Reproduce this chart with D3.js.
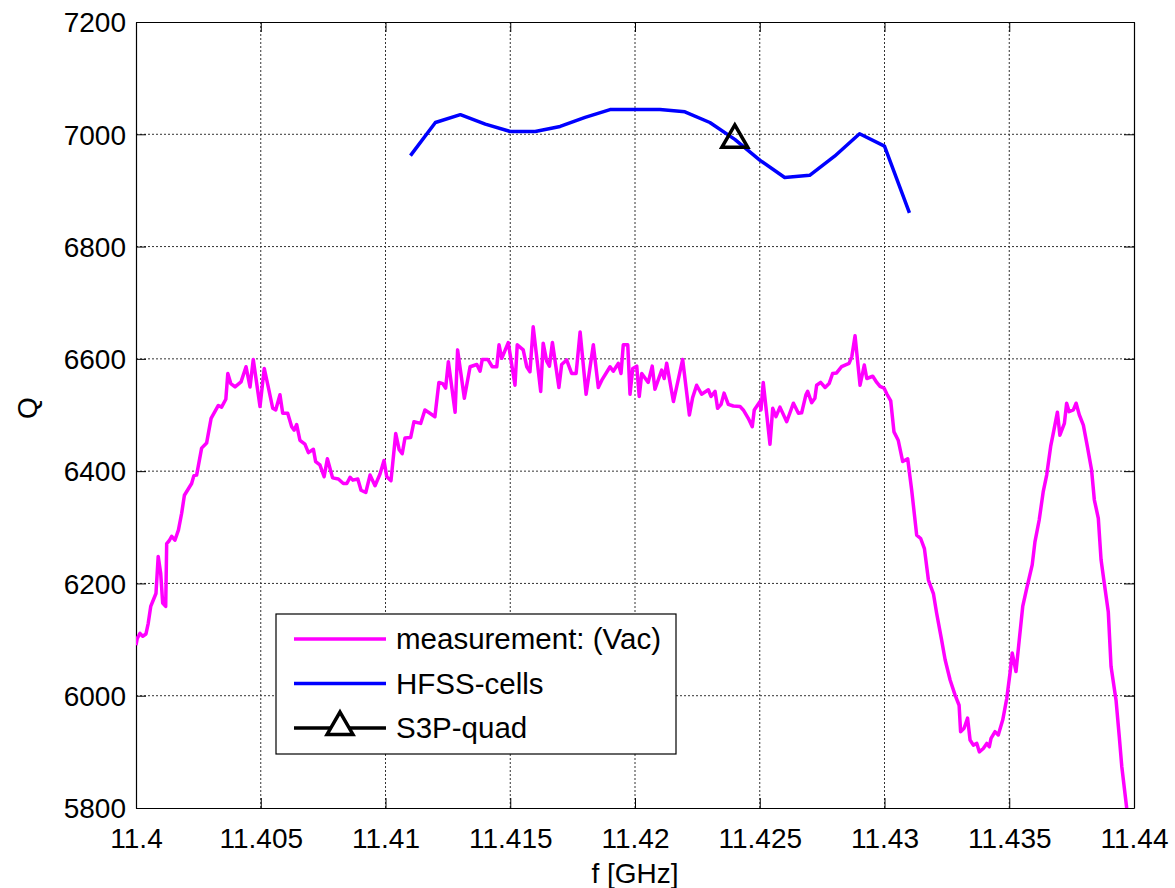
<!DOCTYPE html>
<html>
<head>
<meta charset="utf-8">
<script src="https://cdn.jsdelivr.net/npm/d3@7"></script>
<style>
  body { margin: 0; background: #fff; }
  text { font-family: "Liberation Sans", Arial, sans-serif; fill: #000; }
</style>
</head>
<body>
<div id="chart"></div>
<script>
// Measurement (Vac) - frequency in GHz and Q
const measFreq = [
  11.40000, 11.40005, 11.40016, 11.40027, 11.40040, 11.40049, 11.40059, 11.40069, 11.40080, 11.40089,
  11.40099, 11.40107, 11.40119, 11.40123, 11.40133, 11.40143, 11.40156, 11.40170, 11.40183, 11.40194,
  11.40223, 11.40232, 11.40243, 11.40263, 11.40283, 11.40301, 11.40330, 11.40343, 11.40360, 11.40368,
  11.40380, 11.40397, 11.40421, 11.40441, 11.40457, 11.40470, 11.40497, 11.40514, 11.40530, 11.40548,
  11.40560, 11.40577, 11.40588, 11.40608, 11.40624, 11.40634, 11.40644, 11.40657, 11.40677, 11.40691,
  11.40711, 11.40720, 11.40737, 11.40754, 11.40767, 11.40788, 11.40811, 11.40831, 11.40845, 11.40858,
  11.40869, 11.40889, 11.40902, 11.40921, 11.40938, 11.40958, 11.40978, 11.40994, 11.41005, 11.41022,
  11.41041, 11.41055, 11.41067, 11.41078, 11.41101, 11.41114, 11.41141, 11.41158, 11.41178, 11.41198,
  11.41214, 11.41229, 11.41241, 11.41252, 11.41279, 11.41289, 11.41316, 11.41339, 11.41366, 11.41379,
  11.41388, 11.41410, 11.41428, 11.41446, 11.41455, 11.41466, 11.41492, 11.41519, 11.41528, 11.41552,
  11.41566, 11.41579, 11.41592, 11.41622, 11.41632, 11.41646, 11.41657, 11.41669, 11.41695, 11.41706,
  11.41726, 11.41746, 11.41764, 11.41780, 11.41804, 11.41833, 11.41853, 11.41867, 11.41900, 11.41913,
  11.41933, 11.41944, 11.41953, 11.41971, 11.41980, 11.41991, 11.42007, 11.42017, 11.42027, 11.42053,
  11.42069, 11.42080, 11.42107, 11.42117, 11.42127, 11.42154, 11.42167, 11.42191, 11.42218, 11.42231,
  11.42247, 11.42267, 11.42294, 11.42305, 11.42321, 11.42331, 11.42345, 11.42357, 11.42374, 11.42394,
  11.42421, 11.42434, 11.42454, 11.42470, 11.42478, 11.42501, 11.42505, 11.42514, 11.42541, 11.42552,
  11.42565, 11.42581, 11.42608, 11.42635, 11.42655, 11.42668, 11.42685, 11.42692, 11.42708, 11.42721,
  11.42728, 11.42744, 11.42762, 11.42778, 11.42792, 11.42808, 11.42828, 11.42858, 11.42869, 11.42882,
  11.42902, 11.42919, 11.42929, 11.42953, 11.42969, 11.42982, 11.42998, 11.43010, 11.43025, 11.43038,
  11.43055, 11.43073, 11.43093, 11.43109, 11.43129, 11.43145, 11.43160, 11.43176, 11.43196, 11.43209,
  11.43229, 11.43243, 11.43263, 11.43283, 11.43299, 11.43305, 11.43319, 11.43333, 11.43343, 11.43356,
  11.43370, 11.43380, 11.43396, 11.43410, 11.43420, 11.43427, 11.43443, 11.43456, 11.43474, 11.43490,
  11.43503, 11.43512, 11.43527, 11.43540, 11.43554, 11.43570, 11.43592, 11.43603, 11.43620, 11.43636,
  11.43650, 11.43666, 11.43679, 11.43693, 11.43703, 11.43721, 11.43730, 11.43740, 11.43757, 11.43768,
  11.43781, 11.43797, 11.43813, 11.43830, 11.43841, 11.43857, 11.43868, 11.43881, 11.43897, 11.43908,
  11.43928, 11.43941, 11.43951, 11.43971, 11.43980
];
const measQ = [
  6090, 6102, 6111, 6106, 6110, 6129, 6159, 6170, 6182, 6248,
  6218, 6165, 6159, 6271, 6276, 6284, 6277, 6295, 6325, 6357,
  6378, 6392, 6393, 6441, 6450, 6494, 6517, 6514, 6528, 6574,
  6556, 6550, 6559, 6586, 6550, 6599, 6515, 6583, 6550, 6512,
  6509, 6536, 6503, 6503, 6479, 6473, 6483, 6455, 6448, 6433,
  6439, 6417, 6411, 6390, 6422, 6388, 6386, 6378, 6378, 6389,
  6384, 6386, 6366, 6362, 6393, 6374, 6395, 6419, 6390, 6383,
  6467, 6438, 6431, 6459, 6460, 6488, 6485, 6509, 6503, 6497,
  6558, 6556, 6548, 6595, 6505, 6616, 6530, 6586, 6590, 6578,
  6599, 6599, 6586, 6586, 6625, 6601, 6629, 6553, 6625, 6616,
  6586, 6577, 6657, 6542, 6628, 6596, 6587, 6629, 6549, 6590,
  6598, 6574, 6574, 6648, 6537, 6625, 6549, 6562, 6586, 6578,
  6592, 6574, 6625, 6625, 6537, 6583, 6587, 6533, 6574, 6558,
  6587, 6546, 6580, 6565, 6592, 6524, 6550, 6599, 6500, 6531,
  6553, 6537, 6545, 6533, 6542, 6512, 6519, 6539, 6519, 6516,
  6515, 6509, 6494, 6479, 6509, 6524, 6509, 6558, 6448, 6512,
  6497, 6514, 6488, 6521, 6503, 6504, 6536, 6542, 6522, 6530,
  6553, 6558, 6549, 6556, 6574, 6575, 6586, 6592, 6604, 6641,
  6553, 6589, 6565, 6569, 6558, 6551, 6548, 6537, 6525, 6470,
  6455, 6417, 6422, 6366, 6286, 6280, 6262, 6206, 6182, 6147,
  6099, 6064, 6028, 6001, 5983, 5936, 5942, 5960, 5921, 5912,
  5915, 5900, 5906, 5915, 5909, 5924, 5936, 5930, 5957, 5995,
  6040, 6076, 6043, 6099, 6159, 6191, 6233, 6274, 6313, 6363,
  6393, 6444, 6473, 6505, 6464, 6485, 6521, 6506, 6509, 6521,
  6500, 6482, 6444, 6402, 6349, 6316, 6242, 6200, 6149, 6052,
  5992, 5927, 5874, 5799, 5770
];

// HFSS-cells simulation
const hfssFreq = [
  11.411, 11.412, 11.413, 11.414, 11.415, 11.416, 11.417, 11.418, 11.419, 11.420, 11.421,
  11.422, 11.423, 11.424, 11.425, 11.426, 11.427, 11.428, 11.429, 11.430, 11.431
];
const hfssQ = [
  6962, 7021, 7035, 7018, 7005, 7005, 7014, 7030, 7044, 7044, 7044,
  7040, 7021, 6991, 6954, 6923, 6927, 6961, 7001, 6979, 6860
];

// S3P-quad single point
const s3pFreq = [11.424];
const s3pQ = [6990];

// Axis ticks
const xTicks = [11.4, 11.405, 11.41, 11.415, 11.42, 11.425, 11.43, 11.435, 11.44];
const xTickLabels = ["11.4", "11.405", "11.41", "11.415", "11.42", "11.425", "11.43", "11.435", "11.44"];
const yTicks = [5800, 6000, 6200, 6400, 6600, 6800, 7000, 7200];

// Legend entries
const legendLabels = ["measurement: (Vac)", "HFSS-cells", "S3P-quad"];
const legendColors = ["#ff00ff", "#0000ff", "#000000"];

// Chart dimensions
const margin = { top: 22, right: 41, bottom: 80, left: 136 };
const width = 1175 - margin.left - margin.right;
const height = 888 - margin.top - margin.bottom;

const svg = d3.select("#chart")
    .append("svg")
    .attr("width", 1175)
    .attr("height", 888)
    .append("g")
    .attr("transform", "translate(" + margin.left + "," + margin.top + ")");

// Scales
const xScale = d3.scaleLinear().domain([11.4, 11.44]).range([0, width]);
const yScale = d3.scaleLinear().domain([5800, 7200]).range([height, 0]);

// Clip for the lines
svg.append("clipPath")
    .attr("id", "plot-clip")
    .append("rect")
    .attr("width", width)
    .attr("height", height);

// Dotted grid
svg.append("g")
    .selectAll("line")
    .data(xTicks.slice(1, -1))
    .enter()
    .append("line")
    .attr("x1", d => xScale(d)).attr("x2", d => xScale(d))
    .attr("y1", 0).attr("y2", height)
    .attr("stroke", "#333")
    .attr("stroke-width", 1)
    .attr("stroke-dasharray", "2,2");

svg.append("g")
    .selectAll("line")
    .data(yTicks.slice(1, -1))
    .enter()
    .append("line")
    .attr("y1", d => yScale(d)).attr("y2", d => yScale(d))
    .attr("x1", 0).attr("x2", width)
    .attr("stroke", "#333")
    .attr("stroke-width", 1)
    .attr("stroke-dasharray", "2,2");

// Axes (ticks pointing inward, MATLAB style)
const xAxis = svg.append("g")
    .attr("transform", "translate(0," + height + ")")
    .call(d3.axisBottom(xScale).tickValues(xTicks).tickFormat((d, i) => xTickLabels[i]).tickSizeInner(-10).tickSizeOuter(0).tickPadding(20));

svg.append("g")
    .call(d3.axisTop(xScale).tickValues(xTicks).tickFormat("").tickSizeInner(-10).tickSizeOuter(0));

const yAxis = svg.append("g")
    .call(d3.axisLeft(yScale).tickValues(yTicks).tickFormat(d3.format("d")).tickSizeInner(-10).tickSizeOuter(0).tickPadding(10));

svg.append("g")
    .attr("transform", "translate(" + width + ",0)")
    .call(d3.axisRight(yScale).tickValues(yTicks).tickFormat("").tickSizeInner(-10).tickSizeOuter(0));

svg.selectAll(".domain").attr("stroke", "#000").attr("stroke-width", 1.2);
svg.selectAll(".tick line").attr("stroke", "#000");

xAxis.selectAll("text")
    .style("font-size", "28px")
    .attr("dy", "0.71em");
yAxis.selectAll("text")
    .style("font-size", "28px")
    .attr("dy", "0.35em");

// Axis labels
svg.append("text")
    .attr("x", width / 2)
    .attr("y", height + 75)
    .style("text-anchor", "middle")
    .style("font-size", "28px")
    .text("f [GHz]");

svg.append("text")
    .attr("transform", "rotate(-90)")
    .attr("x", -(height / 2) + 7)
    .attr("y", -margin.left + 37)
    .style("text-anchor", "middle")
    .style("font-size", "28px")
    .text("Q");

// Lines
const line = d3.line()
    .x(d => xScale(d[0]))
    .y(d => yScale(d[1]));

const lines = svg.append("g").attr("clip-path", "url(#plot-clip)");

lines.append("path")
    .datum(measFreq.map((f, i) => [f, measQ[i]]))
    .attr("d", line)
    .attr("fill", "none")
    .attr("stroke", legendColors[0])
    .attr("stroke-width", 3.5)
    .attr("stroke-linejoin", "round");

lines.append("path")
    .datum(hfssFreq.map((f, i) => [f, hfssQ[i]]))
    .attr("d", line)
    .attr("fill", "none")
    .attr("stroke", legendColors[1])
    .attr("stroke-width", 3.5)
    .attr("stroke-linejoin", "round");

// S3P-quad marker
const triangle = d3.symbol().type(d3.symbolTriangle).size(290);

svg.selectAll(".s3p")
    .data(s3pFreq.map((f, i) => [f, s3pQ[i]]))
    .enter()
    .append("path")
    .attr("class", "s3p")
    .attr("d", triangle)
    .attr("transform", d => "translate(" + xScale(d[0]) + "," + yScale(d[1]) + ")")
    .attr("fill", "none")
    .attr("stroke", "#000")
    .attr("stroke-width", 3.5);

// Legend
const legend = svg.append("g")
    .attr("transform", "translate(" + (276 - margin.left) + "," + (614 - margin.top) + ")");

legend.append("rect")
    .attr("width", 400)
    .attr("height", 140)
    .attr("fill", "#fff")
    .attr("stroke", "#000")
    .attr("stroke-width", 1.2);

legendLabels.forEach((label, i) => {
    const y = 25 + i * 44.5;
    legend.append("line")
        .attr("x1", 18).attr("x2", 110)
        .attr("y1", y).attr("y2", y)
        .attr("stroke", legendColors[i])
        .attr("stroke-width", 3.5);
    if (i === 2) {
        legend.append("path")
            .attr("d", triangle)
            .attr("transform", "translate(64," + (y - 1) + ")")
            .attr("fill", "#fff")
            .attr("stroke", "#000")
            .attr("stroke-width", 3.5);
    }
    legend.append("text")
        .attr("x", 120)
        .attr("y", y)
        .attr("dy", "0.35em")
        .style("font-size", "29.5px")
        .text(label);
});
</script>
</body>
</html>
